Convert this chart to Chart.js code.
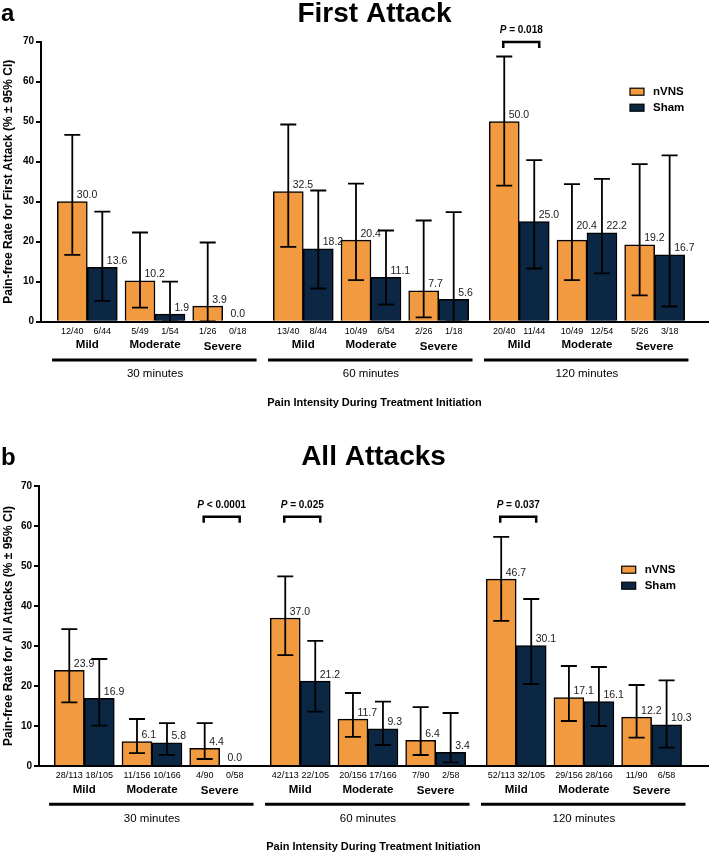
<!DOCTYPE html>
<html><head><meta charset="utf-8">
<script src="https://cdn.jsdelivr.net/npm/chart.js@4.4.1/dist/chart.umd.min.js"></script>
<style>
html,body{margin:0;padding:0;background:#fff;}
#wrap{position:relative;width:709px;height:854px;overflow:hidden;}
.panel{position:absolute;left:0;width:709px;}
#pa{top:0;height:425px;}
#pb{top:425px;height:429px;}
canvas{display:block;}
</style></head><body>
<div id="wrap">
<div class="panel" id="pa"><canvas id="ca" width="709" height="425"></canvas></div>
<div class="panel" id="pb"><canvas id="cb" width="709" height="429"></canvas></div>
</div>
<script>
// ---------------- data ----------------
const severities = ['Mild', 'Moderate', 'Severe'];
const timepoints = ['30 minutes', '60 minutes', '120 minutes'];
const seriesNames = ['nVNS', 'Sham'];
const yTickStep = 10;
const yMax = 70;

// Panel a: First Attack (order: 30 min Mild/Moderate/Severe, 60 min ..., 120 min ...)
const firstNVNS      = [30.0, 10.2, 3.9, 32.5, 20.4, 7.7, 50.0, 20.4, 19.2];
const firstNVNSLow   = [16.7, 3.5, 0.1, 18.7, 10.4, 1.1, 34.0, 10.4, 6.6];
const firstNVNSHigh  = [46.7, 22.3, 19.8, 49.3, 34.5, 25.3, 66.3, 34.4, 39.4];
const firstSham      = [13.6, 1.9, 0.0, 18.2, 11.1, 5.6, 25.0, 22.2, 16.7];
const firstShamLow   = [5.2, 0.05, null, 8.3, 4.3, 0.1, 13.3, 12.1, 3.8];
const firstShamHigh  = [27.5, 10.0, null, 32.8, 22.8, 27.4, 40.4, 35.7, 41.6];
const firstNVNSCounts = ['12/40', '5/49', '1/26', '13/40', '10/49', '2/26', '20/40', '10/49', '5/26'];
const firstShamCounts = ['6/44', '1/54', '0/18', '8/44', '6/54', '1/18', '11/44', '12/54', '3/18'];
const firstPValues = [{ group: 6, level: 69.9, text: '= 0.018' }];

// Panel b: All Attacks
const allNVNS      = [23.9, 6.1, 4.4, 37.0, 11.7, 6.4, 46.7, 17.1, 12.2];
const allNVNSLow   = [15.9, 3.2, 1.75, 27.7, 7.3, 2.75, 36.3, 11.25, 7.1];
const allNVNSHigh  = [34.2, 11.75, 10.7, 47.4, 18.25, 14.7, 57.3, 25.0, 20.25];
const allSham      = [16.9, 5.8, 0.0, 21.2, 9.3, 3.4, 30.1, 16.1, 10.3];
const allShamLow   = [10.1, 2.8, null, 13.6, 5.25, 0.9, 20.5, 10.0, 4.6];
const allShamHigh  = [26.75, 10.7, null, 31.3, 16.1, 13.25, 41.75, 24.75, 21.4];
const allNVNSCounts = ['28/113', '11/156', '4/90', '42/113', '20/156', '7/90', '52/113', '29/156', '11/90'];
const allShamCounts = ['18/105', '10/166', '0/58', '22/105', '17/166', '2/58', '32/105', '28/166', '6/58'];
const allPValues = [
  { group: 2, level: 62.3, text: '< 0.0001' },
  { group: 3, level: 62.3, text: '= 0.025' },
  { group: 6, level: 62.3, text: '= 0.037' }
];

// ---------------- style ----------------
const FONT = "'Liberation Sans', Arial, Helvetica, sans-serif";
const ORANGE = '#F29A3F';
const NAVY = '#0B2744';
const BLOCK_GAP = 0.19;           // extra spacing between time blocks (in category units)
const pos = i => i + Math.floor(i / 3) * BLOCK_GAP;

const decor = {
  id: 'decor',
  afterDatasetsDraw(chart, args, o) {
    const ctx = chart.ctx, ys = chart.scales.y;
    ctx.save();
    const metas = chart.data.datasets.map((d, di) => chart.getDatasetMeta(di));
    chart.data.datasets.forEach((d, di) => {
      const meta = metas[di];
      meta.data.forEach((el, i) => {
        const lo = d.ciLow[i], hi = d.ciHigh[i];
        if (lo != null && hi != null) {
          const yl = ys.getPixelForValue(lo), yh = ys.getPixelForValue(hi);
          ctx.strokeStyle = '#000';
          ctx.lineWidth = 1.8;
          ctx.beginPath();
          ctx.moveTo(el.x, yh); ctx.lineTo(el.x, yl);
          ctx.moveTo(el.x - 8, yh); ctx.lineTo(el.x + 8, yh);
          ctx.moveTo(el.x - 8, yl); ctx.lineTo(el.x + 8, yl);
          ctx.stroke();
        }
        ctx.font = `10.5px ${FONT}`;
        ctx.fillStyle = '#1a1a1a';
        ctx.textBaseline = 'alphabetic';
        const txt = d.values[i].toFixed(1);
        if (lo != null) {
          let base = el.y - 3.5;
          const xl = el.x + 4.5;
          const w = ctx.measureText(txt).width;
          // keep the label clear of the neighbouring (taller) bar of the pair
          if (di === 0 && metas[1]) {
            const nb = metas[1].data[i];
            if (nb && xl + w > nb.x - nb.width / 2 && nb.y < base + 2) base = nb.y - 4;
          }
          ctx.textAlign = 'left';
          ctx.fillText(txt, xl, base);
        } else {
          ctx.textAlign = 'center';
          ctx.fillText(txt, el.x, el.y - 5);
        }
      });
    });
    ctx.restore();
  },
  afterDraw(chart, args, o) {
    const ctx = chart.ctx, xs = chart.scales.x, ys = chart.scales.y, area = chart.chartArea;
    const b = area.bottom;
    ctx.save();
    ctx.fillStyle = '#000';
    ctx.strokeStyle = '#000';
    ctx.textAlign = 'center';
    ctx.textBaseline = 'middle';
    // n/N under each bar
    ctx.font = `9px ${FONT}`;
    chart.data.datasets.forEach((d, di) => {
      chart.getDatasetMeta(di).data.forEach((el, i) => ctx.fillText(d.counts[i], el.x, b + 10));
    });
    // severity labels
    ctx.font = `bold 11.5px ${FONT}`;
    for (let i = 0; i < 9; i++) {
      const s = severities[i % 3];
      ctx.fillText(s, xs.getPixelForValue(pos(i)), b + 23.5 + (s === 'Severe' ? 1.5 : 0));
    }
    // block underlines + labels
    timepoints.forEach((t, k) => {
      const x0 = xs.getPixelForValue(pos(3 * k) - 0.52);
      const x1 = xs.getPixelForValue(pos(3 * k + 2) + 0.5);
      ctx.lineWidth = 3;
      ctx.beginPath(); ctx.moveTo(x0, b + 38.3); ctx.lineTo(x1, b + 38.3); ctx.stroke();
      ctx.font = `11.5px ${FONT}`;
      ctx.fillText(t, xs.getPixelForValue(pos(3 * k + 1)), b + 52.5);
    });
    // x axis title
    ctx.font = `bold 11px ${FONT}`;
    ctx.fillText('Pain Intensity During Treatment Initiation', (area.left + area.right) / 2, b + 81);

    // significance brackets
    o.pvalues.forEach(p => {
      const cx = xs.getPixelForValue(pos(p.group)) + 2;
      const yl = ys.getPixelForValue(p.level);
      ctx.lineWidth = 2.5;
      ctx.beginPath();
      ctx.moveTo(cx - 18, yl + 6); ctx.lineTo(cx - 18, yl); ctx.lineTo(cx + 18, yl); ctx.lineTo(cx + 18, yl + 6);
      ctx.stroke();
      ctx.font = `italic bold 10px ${FONT}`;
      const wP = ctx.measureText('P').width;
      ctx.font = `bold 10px ${FONT}`;
      const rest = ' ' + p.text;
      const wR = ctx.measureText(rest).width;
      const x0 = cx - (wP + wR) / 2;
      ctx.textAlign = 'left';
      ctx.font = `italic bold 10px ${FONT}`;
      ctx.fillText('P', x0, yl - 12);
      ctx.font = `bold 10px ${FONT}`;
      ctx.fillText(rest, x0 + wP, yl - 12);
      ctx.textAlign = 'center';
    });

    // legend
    chart.data.datasets.forEach((d, di) => {
      const ry = o.legend.y + di * 16;
      ctx.fillStyle = d.backgroundColor;
      ctx.fillRect(o.legend.x, ry - 3.5, 14, 7);
      ctx.lineWidth = 1.2;
      ctx.strokeRect(o.legend.x, ry - 3.5, 14, 7);
      ctx.fillStyle = '#000';
      ctx.font = `bold 11.5px ${FONT}`;
      ctx.textAlign = 'left';
      ctx.fillText(d.label, o.legend.x + 23, ry);
    });

    // panel title and letter
    ctx.textBaseline = 'alphabetic';
    ctx.textAlign = 'center';
    ctx.font = `bold 28px ${FONT}`;
    ctx.fillText(o.title, (area.left + area.right) / 2, o.titleBaseline);
    ctx.textAlign = 'left';
    ctx.font = `bold 24px ${FONT}`;
    ctx.fillText(o.letter, 1, o.letterBaseline);
    ctx.restore();
  }
};

function makeChart(id, p) {
  const mk = (name, vals, lo, hi, counts, color) => ({
    label: name,
    values: vals,
    ciLow: lo,
    ciHigh: hi,
    counts: counts,
    data: vals.map((v, i) => ({ x: pos(i), y: v })),
    backgroundColor: color,
    borderColor: '#000',
    borderWidth: 1.5,
    barThickness: 30
  });
  return new Chart(document.getElementById(id), {
    type: 'bar',
    data: {
      datasets: [
        mk(seriesNames[0], p.nvns, p.nvnsLow, p.nvnsHigh, p.nvnsCounts, ORANGE),
        mk(seriesNames[1], p.sham, p.shamLow, p.shamHigh, p.shamCounts, NAVY)
      ]
    },
    options: {
      responsive: false,
      animation: false,
      devicePixelRatio: 1,
      layout: { padding: { left: 0, right: 1, top: p.padTop, bottom: p.padBottom } },
      plugins: {
        legend: { display: false },
        tooltip: { enabled: false },
        decor: {
          pvalues: p.pvalues, legend: p.legend, title: p.title, titleBaseline: p.titleBaseline,
          letter: p.letter, letterBaseline: p.letterBaseline
        }
      },
      scales: {
        x: {
          type: 'linear', min: p.xMin, max: p.xMax, offset: false,
          ticks: { display: false },
          grid: { display: false, drawTicks: false, offset: false },
          border: { display: true, color: '#000', width: 2 }
        },
        y: {
          min: 0, max: yMax,
          ticks: { stepSize: yTickStep, color: '#000', padding: 2, font: { family: FONT, size: 10, weight: 'bold' } },
          grid: { display: true, drawOnChartArea: false, drawTicks: true, tickLength: 5, color: '#000', lineWidth: 2 },
          border: { display: true, color: '#000', width: 2 },
          title: { display: true, text: p.yTitle, color: '#000', padding: { top: 1, bottom: 0 }, font: { family: FONT, size: 12, weight: 'bold' } },
          afterFit(s) { s.width = p.yWidth; }
        }
      }
    },
    plugins: [decor]
  });
}

makeChart('ca', {
  nvns: firstNVNS, nvnsLow: firstNVNSLow, nvnsHigh: firstNVNSHigh, nvnsCounts: firstNVNSCounts,
  sham: firstSham, shamLow: firstShamLow, shamHigh: firstShamHigh, shamCounts: firstShamCounts,
  pvalues: firstPValues,
  title: 'First Attack', titleBaseline: 21.5, letter: 'a', letterBaseline: 21,
  yTitle: 'Pain-free Rate for First Attack (% \u00B1 95% CI)',
  yWidth: 41, padTop: 41.7, padBottom: 103.3, xMin: -0.684, xMax: 9.168,
  legend: { x: 630, y: 91.7 }
});

makeChart('cb', {
  nvns: allNVNS, nvnsLow: allNVNSLow, nvnsHigh: allNVNSHigh, nvnsCounts: allNVNSCounts,
  sham: allSham, shamLow: allShamLow, shamHigh: allShamHigh, shamCounts: allShamCounts,
  pvalues: allPValues,
  title: 'All Attacks', titleBaseline: 40, letter: 'b', letterBaseline: 40,
  yTitle: 'Pain-free Rate for All Attacks (% \u00B1 95% CI)',
  yWidth: 39, padTop: 61, padBottom: 88, xMin: -0.669, xMax: 9.213,
  legend: { x: 621.7, y: 144.7 }
});
</script>
</body></html>
